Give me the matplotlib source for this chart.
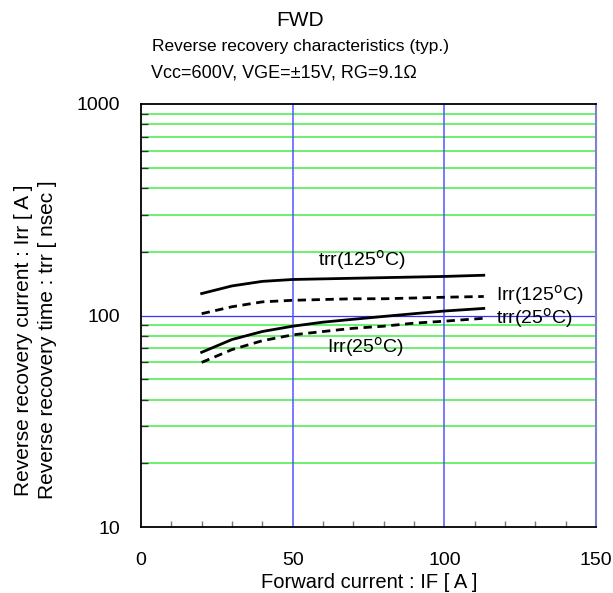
import numpy as np
import matplotlib.pyplot as plt
from matplotlib.ticker import FixedLocator, NullFormatter

plt.rcParams['font.family'] = ['Liberation Sans', 'DejaVu Sans']

# forward current IF [A]
i_f = [20, 30, 40, 50, 60, 70, 80, 90, 100, 113]
trr_125 = [127, 138, 145, 148, 149, 150, 151, 152, 153, 155]
irr_125 = [102, 110, 116, 118, 119, 120, 120, 121, 122, 123]
trr_25 = [67, 77, 84, 89, 93, 96, 99, 102, 105, 108]
irr_25 = [60, 69, 76, 81, 84, 87, 89, 92, 94, 97]

x_ticks = [0, 50, 100, 150]
y_ticks = [10, 100, 1000]

fig = plt.figure(figsize=(6.13, 5.93), dpi=100)
ax = fig.add_axes([141/613, 1 - 527/593, 455/613, 423/593])

ax.set_xlim(0, 150)
ax.set_ylim(10, 1000)
ax.set_yscale('log')

minor_y = [v * d for d in (10, 100) for v in range(2, 10)]
for v in minor_y:
    ax.axhline(v, color='#44ee44', lw=1.1, zorder=1)
ax.axhline(100, color='#3333ff', lw=0.9, zorder=1)
for v in (50, 100):
    ax.axvline(v, color='#5555ff', lw=1.1, zorder=1)

ax.plot(i_f, trr_125, color='black', lw=2, zorder=3)
ax.plot(i_f, irr_125, color='black', lw=2, ls=(0, (3, 2)), zorder=3)
ax.plot(i_f, trr_25, color='black', lw=2, zorder=3)
ax.plot(i_f, irr_25, color='black', lw=2, ls=(0, (3, 2)), zorder=3)

ax.text(73, 160, 'trr(125$^{\\rm o}$C)', fontsize=14, ha='center', va='bottom')
ax.text(117, 125, 'Irr(125$^{\\rm o}$C)', fontsize=14, ha='left', va='center')
ax.text(117, 97, 'trr(25$^{\\rm o}$C)', fontsize=14, ha='left', va='center')
ax.text(74, 71, 'Irr(25$^{\\rm o}$C)', fontsize=14, ha='center', va='center')

ax.xaxis.set_major_locator(FixedLocator(x_ticks))
ax.xaxis.set_minor_locator(FixedLocator(range(10, 150, 10)))
ax.yaxis.set_major_locator(FixedLocator(y_ticks))
ax.yaxis.set_minor_locator(FixedLocator(minor_y))
ax.yaxis.set_minor_formatter(NullFormatter())
ax.set_yticklabels([str(v) for v in y_ticks])
ax.tick_params(which='major', length=0, labelsize=14)
ax.tick_params(axis='x', which='major', pad=18)
ax.tick_params(axis='y', which='major', pad=15)
ax.tick_params(which='minor', direction='in', length=5, width=1, color='#333333')
ax.tick_params(axis='x', which='minor', length=4, color='#777777')

for s in ('top', 'bottom', 'left'):
    ax.spines[s].set_linewidth(1.3)
    ax.spines[s].set_color('black')
ax.spines['right'].set_color('#8080c8')
ax.spines['right'].set_linewidth(1.5)

fig.text(300/613, 1 - 20/593, 'FWD', fontsize=15, ha='center', va='center')
fig.text(300/613, 1 - 47/593, 'Reverse recovery characteristics (typ.)', fontsize=12.5,
         ha='center', va='center')
fig.text(284/613, 1 - 73/593, 'Vcc=600V, VGE=\u00b115V, RG=9.1\u03a9', fontsize=13,
         ha='center', va='center')

fig.text(24/613, 1 - 340/593, 'Reverse recovery current : Irr [ A ]', fontsize=15,
         rotation=90, ha='center', va='center')
fig.text(48/613, 1 - 340/593, 'Reverse recovery time : trr [ nsec ]', fontsize=15,
         rotation=90, ha='center', va='center')
fig.text(369/613, 1 - 582/593, 'Forward current : IF [ A ]', fontsize=14.5,
         ha='center', va='center')

fig.savefig('out.png', dpi=100)
